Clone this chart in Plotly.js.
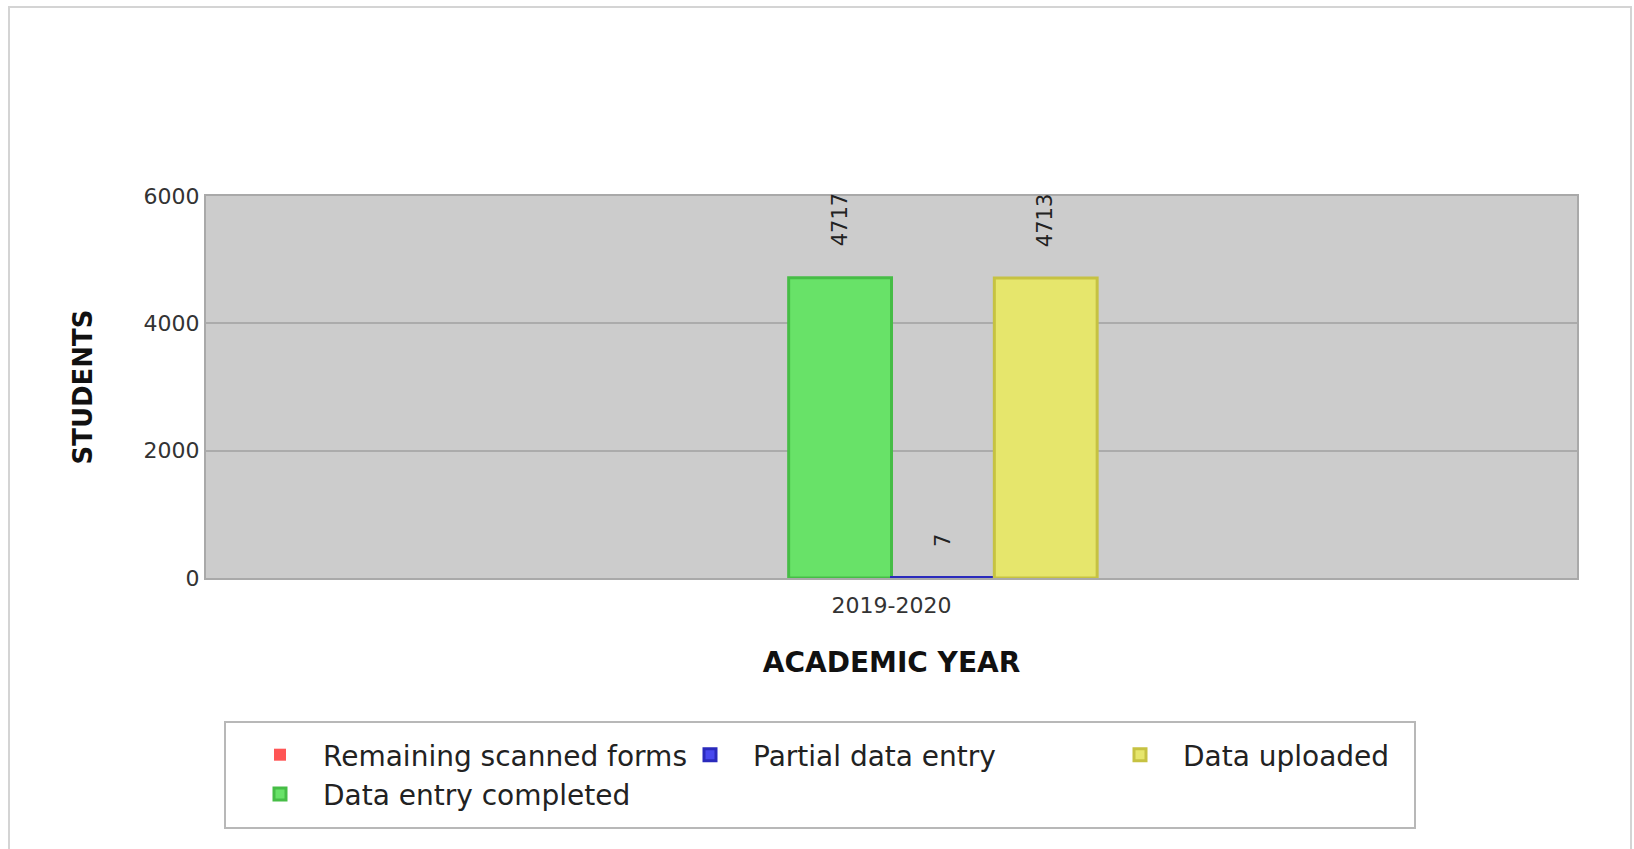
<!DOCTYPE html>
<html><head><meta charset="utf-8">
<script src="https://cdn.plot.ly/plotly-3.0.1.min.js"></script>
<style>
html,body{margin:0;padding:0;background:#fff;overflow:hidden;}
#chart{width:1634px;height:849px;}
#frame{position:absolute;left:8px;top:6px;width:1620px;height:900px;border:2px solid #d4d4d4;pointer-events:none;}
</style></head><body>
<div id="chart"></div>
<div id="frame"></div>
<script>
// ---- data ----
const categories = ['2019-2020'];
const seriesNames = ['Remaining scanned forms', 'Data entry completed', 'Partial data entry', 'Data uploaded'];
const remainingScanned = [0];
const dataEntryCompleted = [4717];
const partialDataEntry = [7];
const dataUploaded = [4713];
const seriesValues = [remainingScanned, dataEntryCompleted, partialDataEntry, dataUploaded];
const legendRanks = [1, 4, 2, 3];
const yTickValues = [0, 2000, 4000, 6000];
const yTickLabels = ['0', '2000', '4000', '6000'];

// ---- style ----
const barColors = ['#ff5555', '#68e268', '#4848ee', '#e6e66c'];
const edgeColors = ['#e04848', '#46bd46', '#2a2abc', '#c6c242'];
const FONT = 'DejaVu Sans';
const W = 1634, H = 849;
const PL = 206, PR = 1577, PT = 196, PB = 578;
const BARGAP = 0.7;
const plotW = PR - PL, plotH = PB - PT;
const px2x = p => (p - PL) / plotW;
const py2y = p => (PB - p) / plotH;

const traces = seriesNames.map((name, i) => ({
  type: 'bar',
  name: name,
  x: categories,
  y: seriesValues[i],
  marker: {
    color: barColors[i],
    line: {color: edgeColors[i], width: seriesValues[i].map(v => (v > 0 ? 3 : 0))}
  },
  legendrank: legendRanks[i],
  hoverinfo: 'x+y+name'
}));

const n = seriesNames.length;
const annotations = [];
seriesValues.forEach((vals, i) => {
  vals.forEach((v, j) => {
    if (v > 0) {
      annotations.push({
        x: j - (1 - BARGAP) / 2 + (i + 0.5) * (1 - BARGAP) / n,
        y: v, xref: 'x', yref: 'y',
        text: String(v), showarrow: false, textangle: -90,
        yanchor: 'bottom', xanchor: 'center', yshift: 29,
        font: {family: FONT, size: 21, color: '#222'}
      });
    }
  });
});

const layout = {
  width: W, height: H,
  margin: {l: PL, r: W - PR, t: PT, b: H - PB, pad: 0},
  paper_bgcolor: '#ffffff',
  plot_bgcolor: '#cccccc',
  font: {family: FONT, color: '#333'},
  barmode: 'group',
  bargap: BARGAP,
  bargroupgap: 0,
  showlegend: true,
  xaxis: {
    type: 'category',
    showgrid: false,
    showline: true, mirror: true, linecolor: '#a9a9a9', linewidth: 2,
    ticks: '', ticklabelstandoff: 7,
    tickfont: {family: FONT, size: 22, color: '#333'},
    title: {text: 'ACADEMIC YEAR', standoff: 35, font: {family: FONT, size: 28, color: '#111', weight: 'bold'}},
    fixedrange: true, zeroline: false
  },
  yaxis: {
    range: [0, 6000],
    tickvals: yTickValues, ticktext: yTickLabels,
    showgrid: true, gridcolor: '#ababab', gridwidth: 1.5,
    showline: true, mirror: true, linecolor: '#a9a9a9', linewidth: 2,
    zeroline: false,
    ticks: '', ticklabelstandoff: 0,
    tickfont: {family: FONT, size: 22, color: '#333'},
    title: {text: 'STUDENTS', standoff: 43, font: {family: FONT, size: 26, color: '#111', weight: 'bold'}},
    fixedrange: true
  },
  legend: {
    orientation: 'h',
    x: px2x(237), xanchor: 'left',
    y: py2y(730), yanchor: 'top',
    bgcolor: 'rgba(0,0,0,0)', borderwidth: 0,
    font: {family: FONT, size: 28, color: '#222'},
    itemwidth: 76,
    entrywidth: 339, entrywidthmode: 'pixels',
    traceorder: 'normal'
  },
  shapes: [{
    type: 'rect', xref: 'paper', yref: 'paper',
    x0: px2x(225), x1: px2x(1415), y0: py2y(828), y1: py2y(722),
    line: {color: '#b8b8b8', width: 2}, fillcolor: 'rgba(0,0,0,0)', layer: 'below'
  }],
  annotations: annotations
};

Plotly.newPlot('chart', traces, layout, {displayModeBar: false});
</script>
</body></html>
